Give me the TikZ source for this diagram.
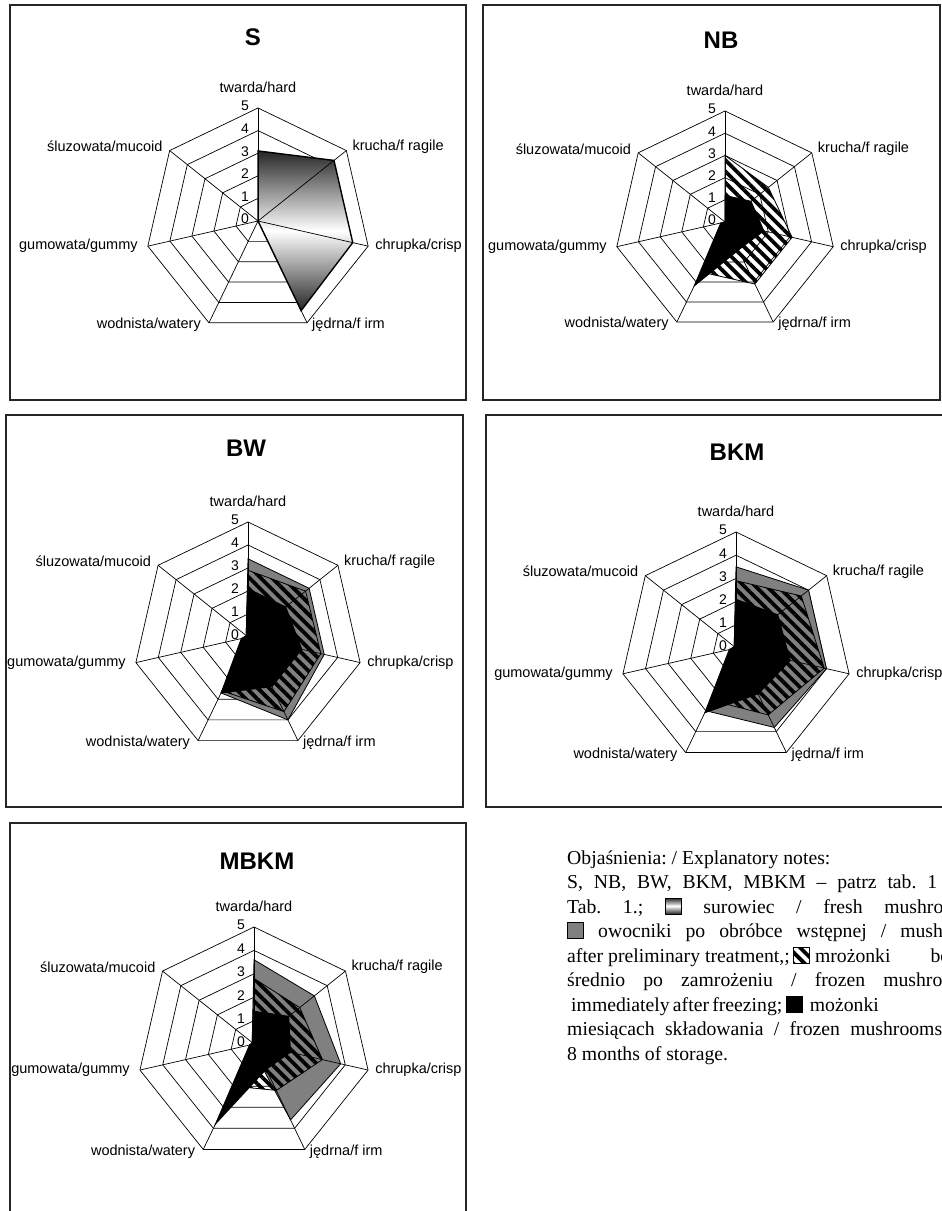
\documentclass[tikz,border=0pt]{standalone}
\usepackage{fontspec}
\setmainfont{Liberation Serif}
\setsansfont{Liberation Sans}
\usetikzlibrary{patterns.meta}

\tikzset{
    web/.style={draw=black, line width=0.7pt}, % rings and spokes of a radar chart
    panel/.style={draw=black!85, line width=1.4pt}, % frame round each chart
    axis label/.style={font=\sffamily\fontsize{14.5}{17}\selectfont, inner sep=0pt},
    scale label/.style={font=\sffamily\fontsize{14}{17}\selectfont, inner sep=0pt},
    chart title/.style={font=\sffamily\bfseries\fontsize{24}{28}\selectfont, inner sep=0pt},
    fresh/.style={draw=black, line width=1.4pt, top color=black!85, bottom color=black!85, middle color=white},
    treated/.style={draw=black, line width=0.8pt, fill=black!50},
    frozen/.style={draw=black, line width=0.8pt, pattern={Lines[angle=-45, distance=8pt, line width=3.8pt]}},
    stored/.style={draw=black, line width=0.8pt, fill=black},
    note/.style={font=\fontsize{19.7}{24}\selectfont\frenchspacing, inner sep=0pt, anchor=base west},
}

% small key square used in the notes
\newcommand{\keybox}[1]{\tikz[baseline=1pt, x=1pt, y=1pt]\path[#1, line width=1pt] (0,0) rectangle (16,16);}

% rings of one chart: #1 name, #2 radius
\newcommand{\radarrings}[2]{%
    \foreach \lv in {1,...,5}
        \draw[web] (-90:{\lv*#2/5}) \foreach \k in {1,...,6}{ -- ({-90+\k*360/7}:{\lv*#2/5})} -- cycle;
    \foreach \k in {0,...,6}
        \coordinate (#1-\k) at ({-90+\k*360/7}:#2);
    \coordinate (#1-c) at (0,0);
}

% one series: #1 style, #2 radius, #3..#9 hard, fragile, crisp, firm, watery, gummy, mucoid
\newcommand{\radararea}[9]{%
    \path[#1] (-90:{#3*#2/5}) -- ({-90+360/7}:{#4*#2/5}) -- ({-90+2*360/7}:{#5*#2/5})
        -- ({-90+3*360/7}:{#6*#2/5}) -- ({-90+4*360/7}:{#7*#2/5})
        -- ({-90+5*360/7}:{#8*#2/5}) -- ({-90+6*360/7}:{#9*#2/5}) -- cycle;
}

% spokes, scale and axis names of one chart: #1 name, #2 radius
\newcommand{\radaraxes}[2]{%
    \foreach \k in {0,...,6}
        \draw[web] (#1-c) -- (#1-\k);
    \foreach \lv in {0,...,5}
        \node[scale label] (#1-n\lv) at (-13, {-\lv*#2/5-2}) {\lv};
    \node[axis label] (#1-hard) at (0, {-#2-21}) {twarda/hard};
    \node[axis label, anchor=west, xshift=6pt, yshift=4pt] (#1-fragile) at (#1-1) {krucha/f ragile};
    \node[axis label, anchor=west, xshift=7pt] (#1-crisp) at (#1-2) {chrupka/crisp};
    \node[axis label, anchor=west, xshift=5pt, yshift=-2pt] (#1-firm) at (#1-3) {jędrna/f irm};
    \node[axis label, anchor=east, xshift=-8pt, yshift=-2pt] (#1-watery) at (#1-4) {wodnista/watery};
    \node[axis label, anchor=east, xshift=-10pt] (#1-gummy) at (#1-5) {gumowata/gummy};
    \node[axis label, anchor=east, xshift=-7pt, yshift=4pt] (#1-mucoid) at (#1-6) {śluzowata/mucoid};
}

\begin{document}
\begin{tikzpicture}[x=1pt, y=-1pt]
    \useasboundingbox (0,0) rectangle (942,1211);
    \clip (0,0) rectangle (942,1211);

    % S
    \draw[panel] (10,5) rectangle (466,400);
    \node[chart title] (S-title) at (253,37) {S};
    \begin{scope}[shift={(258,221)}]
        \radarrings{S}{113}
        \radararea{fresh}{113}{3.1}{4.3}{4.3}{4.4}{0}{0}{0}
        \radaraxes{S}{113}
    \end{scope}

    % NB
    \draw[panel] (483,5) rectangle (940,400);
    \node[chart title] (NB-title) at (721,40) {NB};
    \begin{scope}[shift={(725,222)}]
        \radarrings{NB}{111}
        \radararea{frozen}{111}{3.0}{2.5}{3.1}{3.1}{2.5}{0}{0}
        \radararea{stored}{111}{1.2}{1.5}{1.8}{1.4}{3.2}{0.2}{0}
        \radaraxes{NB}{111}
    \end{scope}

    % BW
    \draw[panel] (6,415) rectangle (463,807);
    \node[chart title] (BW-title) at (246,448) {BW};
    \begin{scope}[shift={(248,637)}]
        \radarrings{BW}{115}
        \radararea{treated}{115}{3.4}{3.4}{3.4}{4.0}{2.7}{0.1}{0.1}
        \radararea{frozen}{115}{2.9}{3.2}{3.25}{3.6}{2.6}{0.1}{0.1}
        \radararea{stored}{115}{2.1}{2.1}{2.4}{2.4}{2.7}{0.3}{0.1}
        \radaraxes{BW}{115}
    \end{scope}

    % BKM
    \draw[panel] (486,415) rectangle (950,807);
    \node[chart title] (BKM-title) at (737,452) {BKM};
    \begin{scope}[shift={(736,648)}]
        \radarrings{BKM}{116}
        \radararea{treated}{116}{3.5}{4.0}{4.0}{3.8}{3.0}{0.1}{0.1}
        \radararea{frozen}{116}{2.9}{3.6}{3.9}{3.2}{2.5}{0.1}{0.1}
        \radararea{stored}{116}{2.1}{2.3}{2.4}{2.2}{3.1}{0.3}{0.1}
        \radaraxes{BKM}{116}
    \end{scope}

    % MBKM
    \draw[panel] (10,823) rectangle (466,1220);
    \node[chart title] (MBKM-title) at (257,861) {MBKM};
    \begin{scope}[shift={(254,1044)}]
        \radarrings{MBKM}{117}
        \radararea{treated}{117}{3.6}{3.3}{3.8}{3.6}{0.2}{0.1}{0.1}
        \radararea{frozen}{117}{2.8}{2.5}{3.0}{2.2}{2.0}{0.1}{0.1}
        \radararea{stored}{117}{1.4}{1.9}{1.6}{1.2}{3.8}{0.2}{0.1}
        \radaraxes{MBKM}{117}
    \end{scope}

    % notes
    \node[note] (note1) at (567,864) {Objaśnienia: / Explanatory notes:};
    \node[note] (note2) at (567,888.5) {\makebox[370pt][s]{S, NB, BW, BKM, MBKM – patrz tab. 1}};
    \node[note] (note3) at (567,913) {\makebox[409pt][s]{Tab. 1.; \keybox{fresh} surowiec / fresh mushrooms}};
    \node[note] (note4) at (567,937.5) {\makebox[425pt][s]{\keybox{treated} owocniki po obróbce wstępnej / mushrooms}};
    \node[note] (note5) at (567,962) {after preliminary treatment,;\,\keybox{frozen} mrożonki\hspace{40pt}bezpo-};
    \node[note] (note6) at (567,986.5) {\makebox[408pt][s]{średnio po zamrożeniu / frozen mushrooms}};
    \node[note] (note7) at (571,1011) {\makebox[299pt][s]{immediately after freezing; \keybox{stored}\hspace{4pt} możonki}};
    \node[note] (note8) at (567,1035.5) {\makebox[375pt][s]{miesiącach składowania / frozen mushrooms}};
    \node[note] (note9) at (567,1060) {8 months of storage.};
\end{tikzpicture}
\end{document}
